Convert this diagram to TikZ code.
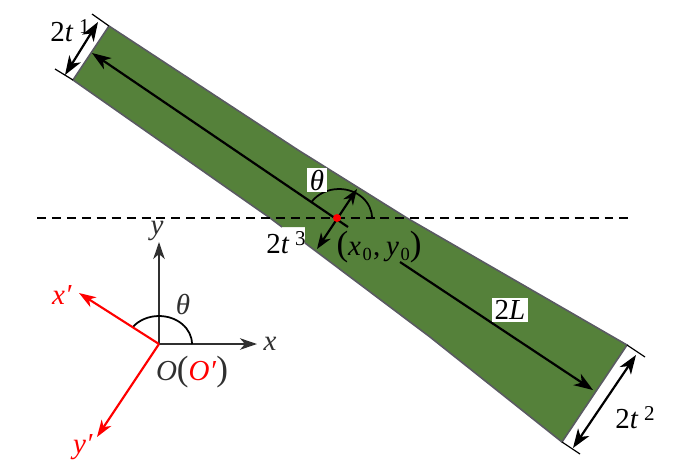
\documentclass[tikz,border=0pt]{standalone}
\usepackage{xcolor}
\usepackage{fontspec}
\setmainfont{Liberation Serif}
\usetikzlibrary{arrows.meta}
\definecolor{beamgreen}{HTML}{55813A}
\definecolor{beamedge}{HTML}{5A5A62}
\definecolor{axisgray}{HTML}{303030}
\newcommand{\widthlabel}[1]{2\textit{t}\hspace{0.2em}\raisebox{0.6ex}{\fontsize{12}{14}\selectfont #1}}
\newcommand{\bigparen}[1]{{\fontsize{20}{22}\selectfont #1}}
\newcommand{\lowzero}{\raisebox{-0.4ex}{\fontsize{10.5}{12}\selectfont 0}}
\tikzset{
	tip/.style={-{Stealth[length=3.8mm,width=2.7mm,inset=1.1mm]}},
	bothtips/.style={{Stealth[length=3.8mm,width=2.7mm,inset=1.1mm]}-{Stealth[length=3.8mm,width=2.7mm,inset=1.1mm]}},
	midtips/.style={{Stealth[length=3.2mm,width=2.3mm,inset=1mm]}-{Stealth[length=3.2mm,width=2.3mm,inset=1mm]}},
	smalltip/.style={-{Stealth[length=3.4mm,width=2.3mm,inset=1mm]}},
	lab/.style={font=\fontsize{16.5}{18}\selectfont,inner sep=0pt},
	boxlab/.style={lab,fill=white,minimum height=0.48cm,inner xsep=1.5pt},
	graylab/.style={lab,text=axisgray}
}
\begin{document}
\begin{tikzpicture}[x=0.02cm,y=-0.02cm]
	\useasboundingbox (0,0) rectangle (700,471);
	% beam
	\fill[beamgreen] (109,26) -- (298,150) -- (407,218) -- (627,345) -- (562,442) -- (430,337) -- (305,243) -- (305,227) -- (282,227) -- (270,218) -- (240,197) -- (73,80) -- cycle;
	\draw[beamedge,line width=0.9pt] (109,26) -- (298,150) -- (407,218) -- (627,345) -- (562,442) -- (430,337) -- (305,243);
	\draw[beamedge,line width=0.9pt] (282,227) -- (270,218) -- (240,197) -- (73,80) -- (109,26);
	% named points
	\coordinate (axisend) at (92,53);
	\coordinate (axisfar) at (593,390);
	\coordinate (centre) at (337,218);
	\coordinate (O) at (159,344);
	% dashed level line
	\draw[black,dash pattern=on 5.1pt off 3.4pt,line width=1pt] (37,218) -- (628,218);
	% long axis, broken by the label
	\draw[tip,line width=1.25pt] (348,227) -- (axisend);
	\draw[tip,line width=1.25pt] (400,262) -- (axisfar);
	% end ticks
	\draw[line width=0.7pt] (92,14) -- (109,26);
	\draw[line width=0.7pt] (55,69) -- (73,80);
	\draw[line width=0.7pt] (627,345) -- (645,357);
	\draw[line width=0.7pt] (562,442) -- (580,454);
	% widths
	\draw[bothtips,line width=1.25pt] (98,22) -- (65,75);
	\draw[bothtips,line width=1.25pt] (636,355) -- (573,448);
	\draw[midtips,line width=1.25pt] (357,189) -- (317,249);
	% angle at the centre
	\draw[line width=1pt] (372,218) arc[start angle=0,end angle=147,x radius=0.66cm,y radius=0.58cm];
	\fill[red] (centre) circle (4);
	% axes
	\draw[smalltip,axisgray,line width=1.1pt] (O) -- (257,344) coordinate (xend);
	\draw[smalltip,axisgray,line width=1.1pt] (O) -- (159,242) coordinate (yend);
	\draw[line width=1pt] (192,344) arc[start angle=0,end angle=142,x radius=0.66cm,y radius=0.56cm];
	\draw[smalltip,red,line width=1.2pt] (O) -- (79,293) coordinate (xprime);
	\draw[smalltip,red,line width=1.2pt] (O) -- (97,437) coordinate (yprime);
	% labels
	\node[lab] (tone) at (70,31) {\widthlabel{1}};
	\node[lab] (ttwo) at (635,418) {\widthlabel{2}};
	\node[lab] (tthree) at (286,243) {\widthlabel{3}};
	\node[boxlab] (theta) at (317,180) {\textit{θ}};
	\node[boxlab] (len) at (510,310) {2\textit{L}};
	\node[lab] (pos) at (379,247) {\bigparen{(}\textit{x}\hspace{0.05em}\lowzero\hspace{0.05em},\hspace{0.2em}\textit{y}\hspace{0.05em}\lowzero\bigparen{)}};
	\node[graylab] (xlab) at (270,344) {\textit{x}};
	\node[graylab] (ylab) at (157,231) {\textit{y}};
	\node[graylab] (angle) at (183,304) {\textit{θ}};
	\node[lab,text=red] (xplab) at (62,295) {\textit{x′}};
	\node[lab,text=red] (yplab) at (83,447) {\textit{y′}};
	\node[graylab] (olab) at (192,372) {\textit{O}\bigparen{(}\textcolor{red}{\textit{O′}}\bigparen{)}};
\end{tikzpicture}
\end{document}
